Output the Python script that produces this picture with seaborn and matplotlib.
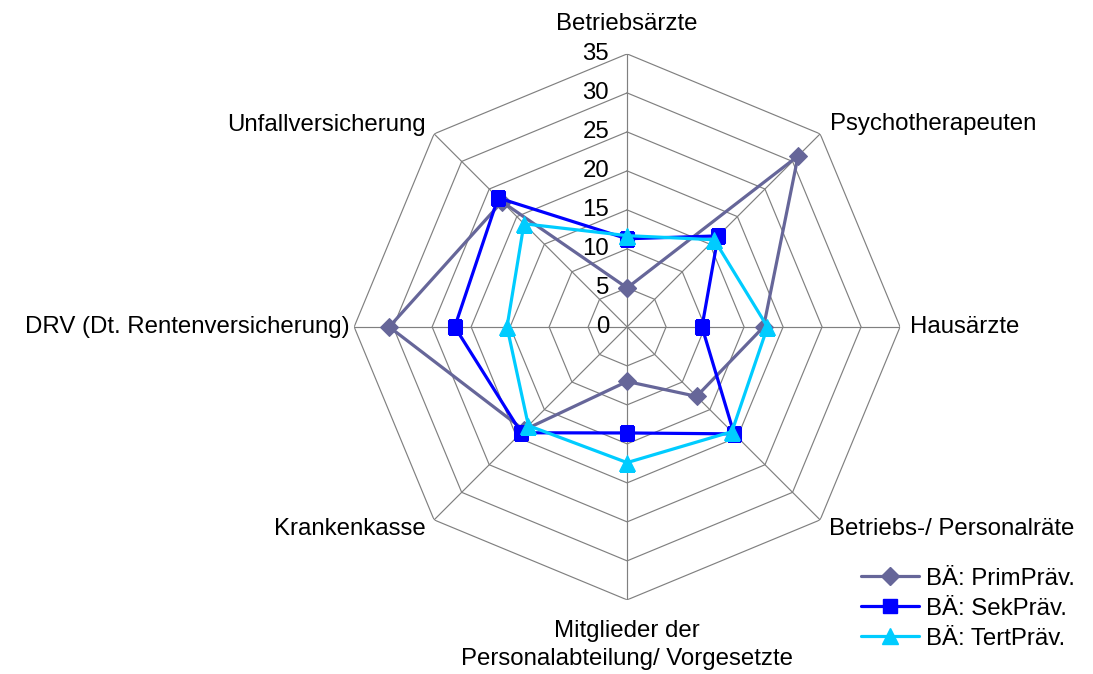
"""Radar chart: Betriebsärzte-Kooperation nach Präventionsstufe."""

import matplotlib
matplotlib.use("Agg")
import numpy as np
import pandas as pd
import matplotlib.pyplot as plt
from matplotlib.lines import Line2D
import seaborn as sns

CATEGORIES = [
    "Betriebsärzte",
    "Psychotherapeuten",
    "Hausärzte",
    "Betriebs-/ Personalräte",
    "Mitglieder der\nPersonalabteilung/ Vorgesetzte",
    "Krankenkasse",
    "DRV (Dt. Rentenversicherung)",
    "Unfallversicherung",
]
SERIES = ["BÄ: PrimPräv.", "BÄ: SekPräv.", "BÄ: TertPräv."]
PRIM = [5.0, 31.0, 17.5, 12.6, 7.0, 18.7, 30.5, 22.7]
SEK = [11.3, 16.5, 9.6, 19.4, 13.6, 19.2, 22.1, 23.4]
TERT = [11.7, 15.8, 18.0, 19.0, 17.4, 17.9, 15.4, 18.7]
R_TICKS = [0, 5, 10, 15, 20, 25, 30, 35]
R_MAX = 35

# styling
COLORS = ["#666699", "#0000FF", "#00CCFF"]
MARKERS = ["D", "s", "^"]
MSIZES = [9, 10, 11]
GRID = "#808080"
FS = 17.3

# label placement: (radius, ha, va)
LABEL_POS = [
    (38.9, "center", "center"),
    (36.8, "left", "center"),
    (36.3, "left", "center"),
    (36.6, "left", "center"),
    (37.6, "center", "top"),
    (36.6, "right", "center"),
    (35.6, "right", "center"),
    (36.6, "right", "center"),
]


def _main() -> None:
    sns.set_style("white")
    plt.rcParams["font.family"] = ["Liberation Sans", "DejaVu Sans"]
    plt.rcParams["text.color"] = "black"

    n = len(CATEGORIES)
    theta = np.arange(n) * 2 * np.pi / n
    theta_closed = np.append(theta, theta[0])

    fig = plt.figure(figsize=(10.93, 6.74), dpi=100)
    ax = fig.add_axes([0.324, 0.110, 0.4995, 0.810], projection="polar")
    ax.set_theta_zero_location("N")
    ax.set_theta_direction(-1)
    ax.set_ylim(0, R_MAX)
    ax.grid(False)
    ax.set_xticks([])
    ax.set_yticks([])
    ax.spines["polar"].set_visible(False)
    ax.patch.set_alpha(0)

    # octagonal grid
    for level in R_TICKS[1:]:
        ax.plot(theta_closed, [level] * (n + 1), color=GRID, lw=0.85, zorder=1)
    for t in theta:
        ax.plot([t, t], [0, R_MAX], color=GRID, lw=0.85, zorder=1)

    frames = []
    for name, vals in zip(SERIES, [PRIM, SEK, TERT]):
        frames.append(pd.DataFrame({
            "series": name,
            "theta": theta_closed,
            "value": list(vals) + [vals[0]],
        }))
    df = pd.concat(frames, ignore_index=True)

    handles = []
    for name, c, m, ms in zip(SERIES, COLORS, MARKERS, MSIZES):
        sub = df[df.series == name]
        sns.lineplot(data=sub, x="theta", y="value", sort=False,
                     estimator=None, color=c, marker=m, markersize=ms,
                     markeredgecolor=c, linewidth=2.3, ax=ax, zorder=3)
        handles.append(Line2D([], [], color=c, marker=m, markersize=ms,
                              markeredgecolor=c, linewidth=2.3))
    ax.set_xlabel("")
    ax.set_ylabel("")
    ax.set_ylim(0, R_MAX)

    # radial tick labels
    for level in R_TICKS:
        ax.annotate(str(level), xy=(0, level), xytext=(-13, 0),
                    textcoords="offset points", ha="right", va="center",
                    fontsize=FS, color="black", zorder=4)

    # category labels
    for t, label, (r, ha, va) in zip(theta, CATEGORIES, LABEL_POS):
        ax.text(t, r, label, ha=ha, va=va, fontsize=FS, color="black",
                multialignment="center", linespacing=1.35)

    fig.legend(handles, SERIES, loc="upper left",
               bbox_to_anchor=(0.788, 0.158), frameon=False, fontsize=FS,
               handlelength=2.4, handletextpad=0.3, labelspacing=0.34,
               borderpad=0, borderaxespad=0)

    fig.savefig("out.png", dpi=100, facecolor="w")


if __name__ == "__main__":
    _main()
